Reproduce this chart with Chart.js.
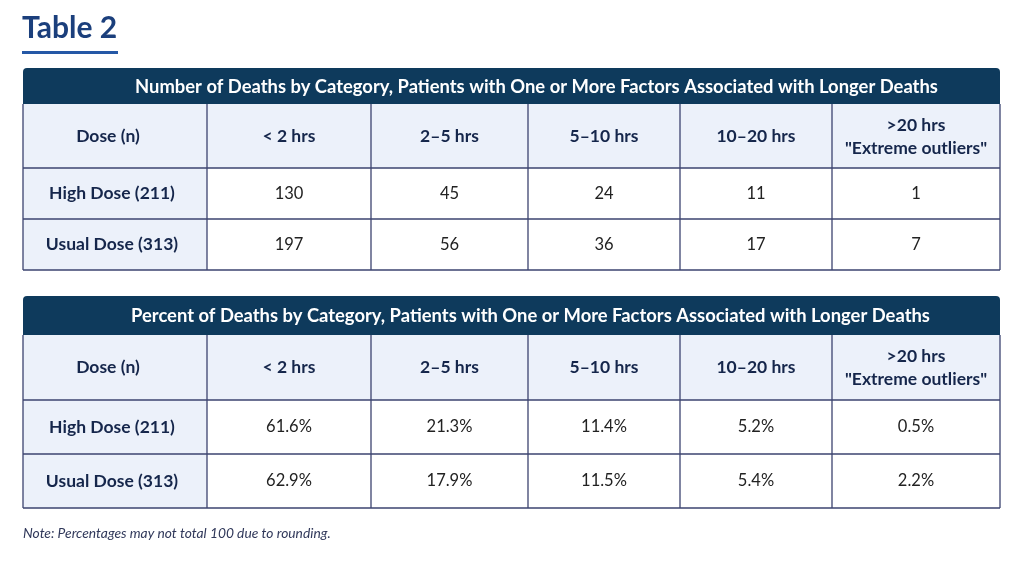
<!DOCTYPE html>
<html>
<head>
<meta charset="utf-8">
<script src="https://cdn.jsdelivr.net/npm/chart.js@4.4.1/dist/chart.umd.min.js"></script>
<style>
  html, body { margin: 0; padding: 0; background: #fff; }
  #wrap { width: 1024px; height: 562px; }
</style>
</head>
<body>
<div id="wrap"><canvas id="tableChart" width="1024" height="562"></canvas></div>
<script>
// table content
const pageTitle = 'Table 2';
const countTitle = 'Number of Deaths by Category, Patients with One or More Factors Associated with Longer Deaths';
const percentTitle = 'Percent of Deaths by Category, Patients with One or More Factors Associated with Longer Deaths';
const columnLabels = ['Dose (n)', '< 2 hrs', '2–5 hrs', '5–10 hrs', '10–20 hrs', ['>20 hrs', '"Extreme outliers"']];
const doseGroups = ['High Dose (211)', 'Usual Dose (313)'];
const highDoseCounts = [130, 45, 24, 11, 1];
const usualDoseCounts = [197, 56, 36, 17, 7];
const highDosePercent = [61.6, 21.3, 11.4, 5.2, 0.5];
const usualDosePercent = [62.9, 17.9, 11.5, 5.4, 2.2];
const noteText = 'Note: Percentages may not total 100 due to rounding.';

// layout (in scale units, which map 1:1 to the page)
const colEdges = [23, 207, 371, 528, 680, 832, 1000];
const tables = [
    { title: countTitle, rows: [highDoseCounts, usualDoseCounts], fmt: v => String(v),
      top: 68, band: 36, head: 64, row: 51, titleShift: 25 },
    { title: percentTitle, rows: [highDosePercent, usualDosePercent], fmt: v => v.toFixed(1) + '%',
      top: 296, band: 39, head: 65, row: 54, titleShift: 19 }
];

const NAVY = '#0e3a5c';
const HEAD_BG = '#ecf1fa';
const LINE = '#3d4470';
const HEAD_TEXT = '#15264b';
const CELL_TEXT = '#222222';
const FONT = 'Lato, "Open Sans", sans-serif';

const tablePlugin = {
    id: 'tablePlugin',
    afterDraw(chart) {
        const ctx = chart.ctx;
        const xs = chart.scales.x, ys = chart.scales.y;
        const px = v => xs.getPixelForValue(v);
        const py = v => ys.getPixelForValue(v);
        ctx.save();
        ctx.textAlign = 'left';
        ctx.textBaseline = 'alphabetic';

        // page title
        ctx.fillStyle = '#1b3f7c';
        ctx.font = 'bold 30px ' + FONT;
        ctx.fillText(pageTitle, px(22), py(38));
        ctx.fillStyle = '#2558a6';
        ctx.fillRect(px(22), py(51), px(118) - px(22), 3);

        const left = px(colEdges[0]), right = px(colEdges[colEdges.length - 1]);
        ctx.textAlign = 'center';
        ctx.textBaseline = 'middle';

        tables.forEach(t => {
            const y0 = py(t.top);
            const y1 = py(t.top + t.band);
            const y2 = py(t.top + t.band + t.head);
            const rowY = t.rows.map((_, i) => py(t.top + t.band + t.head + t.row * i));
            const yEnd = py(t.top + t.band + t.head + t.row * t.rows.length);

            // title band
            ctx.fillStyle = NAVY;
            ctx.beginPath();
            ctx.roundRect(left, y0, right - left, y1 - y0, [4, 4, 0, 0]);
            ctx.fill();
            ctx.fillStyle = '#ffffff';
            ctx.font = 'bold 18.4px ' + FONT;
            ctx.fillText(t.title, (left + right) / 2 + t.titleShift, (y0 + y1) / 2 + 1);

            // backgrounds
            ctx.fillStyle = HEAD_BG;
            ctx.fillRect(left, y1, right - left, y2 - y1);
            ctx.fillRect(left, y2, px(colEdges[1]) - left, yEnd - y2);
            ctx.fillStyle = '#ffffff';
            ctx.fillRect(px(colEdges[1]), y2, right - px(colEdges[1]), yEnd - y2);

            // header labels
            ctx.fillStyle = HEAD_TEXT;
            ctx.font = 'bold 17.5px ' + FONT;
            columnLabels.forEach((lab, c) => {
                const cx = (px(colEdges[c]) + px(colEdges[c + 1])) / 2 - (c === 0 ? 7 : 0);
                const cy = (y1 + y2) / 2;
                if (Array.isArray(lab)) {
                    ctx.fillText(lab[0], cx, cy - 11);
                    ctx.fillText(lab[1], cx, cy + 12);
                } else {
                    ctx.fillText(lab, cx, cy);
                }
            });

            // body rows
            t.rows.forEach((vals, r) => {
                const ry0 = rowY[r];
                const ry1 = r + 1 < rowY.length ? rowY[r + 1] : yEnd;
                const cy = (ry0 + ry1) / 2;
                ctx.fillStyle = HEAD_TEXT;
                ctx.font = 'bold 17.5px ' + FONT;
                ctx.fillText(doseGroups[r], (px(colEdges[0]) + px(colEdges[1])) / 2 - 3, cy);
                ctx.fillStyle = CELL_TEXT;
                ctx.font = '16.5px ' + FONT;
                vals.forEach((v, c) => {
                    const cx = (px(colEdges[c + 1]) + px(colEdges[c + 2])) / 2;
                    ctx.fillText(t.fmt(v), cx, cy);
                });
            });

            // grid lines
            ctx.strokeStyle = LINE;
            ctx.lineWidth = 1.3;
            ctx.beginPath();
            [y2].concat(rowY.slice(1)).concat([yEnd]).forEach(y => {
                ctx.moveTo(left, y); ctx.lineTo(right, y);
            });
            colEdges.forEach(e => {
                ctx.moveTo(px(e), y1); ctx.lineTo(px(e), yEnd);
            });
            ctx.stroke();
        });

        // note
        ctx.textAlign = 'left';
        ctx.fillStyle = '#30385a';
        ctx.font = 'italic 13.8px ' + FONT;
        ctx.fillText(noteText, px(23), py(534));
        ctx.restore();
    }
};

new Chart(document.getElementById('tableChart'), {
    type: 'scatter',
    data: { datasets: [] },
    options: {
        responsive: false,
        animation: false,
        layout: { padding: 0 },
        plugins: { legend: { display: false }, tooltip: { enabled: false } },
        scales: {
            x: { type: 'linear', min: 0, max: 1024, display: false },
            y: { type: 'linear', min: 0, max: 562, reverse: true, display: false }
        }
    },
    plugins: [tablePlugin]
});
</script>
</body>
</html>
